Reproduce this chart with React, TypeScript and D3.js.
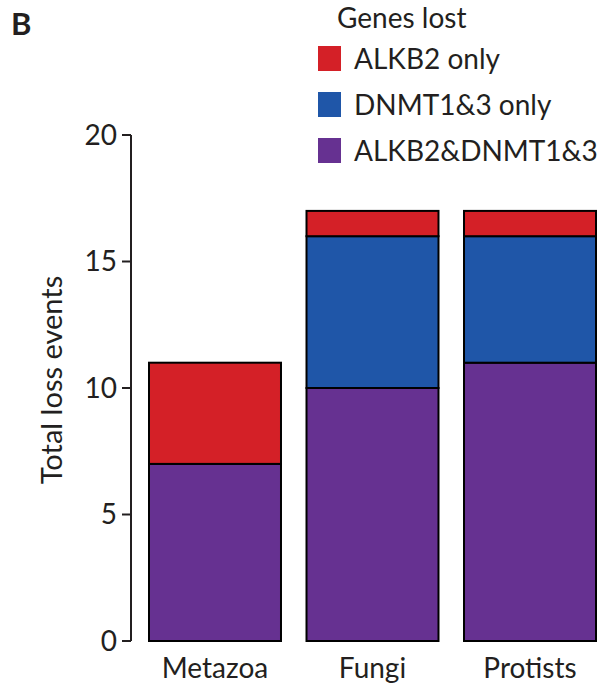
import React from 'react';
import { scaleBand, scaleLinear, stack } from 'd3';

const categories = ['Metazoa', 'Fungi', 'Protists'];
const seriesKeys = ['both', 'dnmt', 'alkb2'];
const bothLost = [7, 10, 11];
const dnmtOnly = [0, 6, 5];
const alkb2Only = [4, 1, 1];
const yTicks = [0, 5, 10, 15, 20];

const legendItems = [
  { label: 'ALKB2 only', color: '#d42027' },
  { label: 'DNMT1&3 only', color: '#1f56a8' },
  { label: 'ALKB2&DNMT1&3', color: '#663191' },
];
const colors: Record<string, string> = { both: '#663191', dnmt: '#1f56a8', alkb2: '#d42027' };

const font = 'Lato, "Open Sans", sans-serif';

function App() {
  const rows = categories.map((c, i) => ({ cat: c, both: bothLost[i], dnmt: dnmtOnly[i], alkb2: alkb2Only[i] }));
  const layers = stack<any>().keys(seriesKeys)(rows);

  const x = scaleBand().domain(categories).range([149, 596]).paddingInner(0.162).paddingOuter(0);
  const y = scaleLinear().domain([0, 20]).range([641, 135]);

  return (
    <svg width={614} height={696} style={{ position: 'absolute', left: 0, top: 0 }} fontFamily={font}>
      <text x={11} y={35} fontSize={31} fontWeight="bold" fill="#231f20">B</text>

      {/* legend */}
      <text x={337} y={28} fontSize={28} fill="#231f20">Genes lost</text>
      {legendItems.map((d, i) => (
        <g key={d.label} transform={`translate(318, ${46 + i * 46})`}>
          <rect width={23} height={25} fill={d.color} />
          <text x={36} y={23} fontSize={28} fill="#231f20">{d.label}</text>
        </g>
      ))}

      {/* y axis */}
      <line x1={131} x2={131} y1={y(20)} y2={y(0)} stroke="#231f20" strokeWidth={2} />
      {yTicks.map((t) => (
        <g key={t} transform={`translate(0, ${y(t)})`}>
          <line x1={122} x2={131} stroke="#231f20" strokeWidth={2} />
          <text x={117} dy="0.35em" textAnchor="end" fontSize={28} fill="#231f20">{t}</text>
        </g>
      ))}
      <text transform={`translate(62, 380) rotate(-90)`} textAnchor="middle" fontSize={29} fill="#231f20">
        Total loss events
      </text>

      {/* bars */}
      {layers.map((layer) => (
        <g key={layer.key}>
          {layer.map((d, i) =>
            d[1] - d[0] > 0 ? (
              <rect
                key={i}
                x={x(categories[i])}
                y={y(d[1])}
                width={x.bandwidth()}
                height={y(d[0]) - y(d[1])}
                fill={colors[layer.key]}
                stroke="#000"
                strokeWidth={2}
              />
            ) : null
          )}
        </g>
      ))}

      {categories.map((c) => (
        <text key={c} x={(x(c) ?? 0) + x.bandwidth() / 2} y={678} textAnchor="middle" fontSize={28} fill="#231f20">
          {c}
        </text>
      ))}
    </svg>
  );
}

export default App;
